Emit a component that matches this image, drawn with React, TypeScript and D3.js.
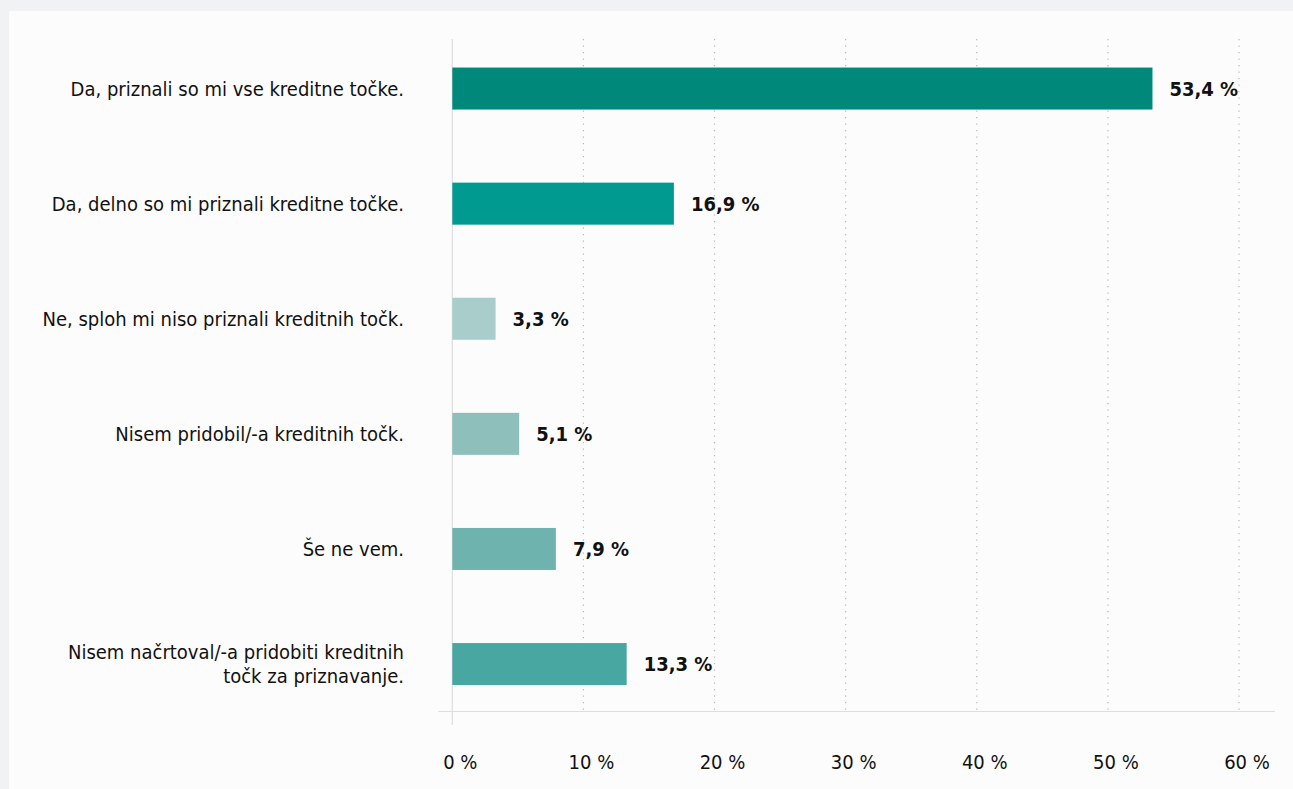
import React from "react";
import * as d3 from "d3";

const categories: string[][] = [
  ["Da, priznali so mi vse kreditne točke."],
  ["Da, delno so mi priznali kreditne točke."],
  ["Ne, sploh mi niso priznali kreditnih točk."],
  ["Nisem pridobil/-a kreditnih točk."],
  ["Še ne vem."],
  ["Nisem načrtoval/-a pridobiti kreditnih", "točk za priznavanje."],
];
const values: number[] = [53.4, 16.9, 3.3, 5.1, 7.9, 13.3];
const barColors: string[] = ["#00897b", "#009a91", "#a8cdca", "#8fbfbb", "#6fb3ae", "#49a7a2"];
const ticks: number[] = [0, 10, 20, 30, 40, 50, 60];

const W = 1293;
const H = 789;
const FONT = "'Liberation Sans Narrow', 'DejaVu Sans Condensed', 'Open Sans', sans-serif";

const fmt = (v: number) => v.toFixed(1).replace(".", ",") + " %";

export default function App() {
  const x = d3.scaleLinear().domain([0, 60]).range([452.3, 1239]);
  const y = d3
    .scaleBand<number>()
    .domain(d3.range(categories.length))
    .range([31, 721.6])
    .paddingInner(0.635)
    .paddingOuter(0.3175);

  const gridTop = 39;
  const baseY = 711.5;

  return (
    <svg
      width={W}
      height={H}
      style={{ position: "absolute", left: 0, top: 0, display: "block" }}
      fontFamily={FONT}
    >
      <rect x={0} y={0} width={W} height={H} fill="#f1f2f4" />
      <rect x={9} y={11} width={W - 9} height={H - 11} fill="#fcfcfc" />

      {ticks.slice(1).map((t) => (
        <line
          key={t}
          x1={x(t)}
          x2={x(t)}
          y1={gridTop}
          y2={baseY}
          stroke="#b9b9b9"
          strokeWidth={1.2}
          strokeDasharray="1.3 5.2"
        />
      ))}

      <line x1={438} x2={1275} y1={baseY} y2={baseY} stroke="#dcdedf" strokeWidth={1.2} />
      <line x1={x(0)} x2={x(0)} y1={gridTop} y2={725} stroke="#dcdedf" strokeWidth={1.2} />

      {values.map((v, i) => {
        const y0 = y(i)!;
        const bw = y.bandwidth();
        const cy = y0 + bw / 2;
        const lines = categories[i];
        const lh = 24;
        return (
          <g key={i}>
            <rect x={x(0)} y={y0} width={x(v) - x(0)} height={bw} fill={barColors[i]} />
            <text
              x={x(v) + 17}
              y={cy}
              dy="0.36em"
              fontSize={20}
              fontWeight="bold"
              fill="#111"
            >
              {fmt(v)}
            </text>
            {lines.map((ln, j) => (
              <text
                key={j}
                x={404}
                y={cy + (j - (lines.length - 1) / 2) * lh}
                dy="0.36em"
                textAnchor="end"
                fontSize={20}
                fill="#111"
              >
                {ln}
              </text>
            ))}
          </g>
        );
      })}

      {ticks.map((t) => (
        <text
          key={t}
          x={x(t) + 8}
          y={762}
          dy="0.36em"
          textAnchor="middle"
          fontSize={20}
          fill="#111"
        >
          {t + " %"}
        </text>
      ))}
    </svg>
  );
}
